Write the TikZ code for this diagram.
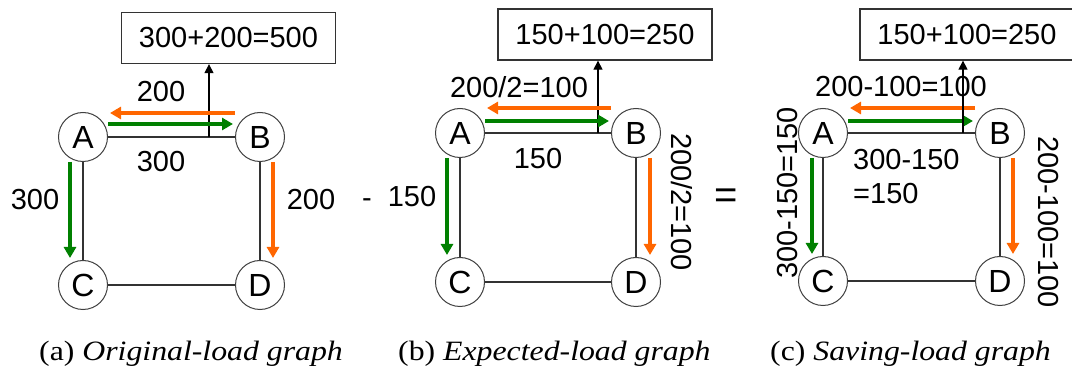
\documentclass[tikz,border=0pt]{standalone}
\usepackage{fontspec}
\setmainfont{Liberation Serif}
\newfontfamily\arialf{Liberation Sans}
\newfontfamily\capf[FakeStretch=1.135]{Liberation Serif}
\usetikzlibrary{arrows.meta}
\definecolor{grn}{RGB}{0,128,0}
\definecolor{org}{RGB}{255,102,0}
\tikzset{
  vtx/.style={circle, draw=black!75, line width=1pt, fill=white, minimum size=49pt, inner sep=0pt, font=\arialf\fontsize{32}{38}\selectfont},
  sumbox/.style={draw=black!80, line width=1.3pt, minimum width=214pt, minimum height=51pt, inner sep=0pt, font=\arialf\fontsize{29}{34}\selectfont},
  lbl/.style={inner sep=0pt, font=\arialf\fontsize{29}{34}\selectfont},
  bigop/.style={inner sep=0pt, font=\arialf\fontsize{40}{46}\selectfont},
  link/.style={draw=black!80, line width=1.2pt},
  garrow/.style={draw=grn, line width=4pt, -{Triangle[length=11pt,width=12pt]}},
  oarrow/.style={draw=org, line width=4pt, -{Triangle[length=11pt,width=12pt]}},
  uparrow/.style={draw=black, line width=1.2pt, -{Triangle[length=9pt,width=9pt]}},
  captext/.style={inner sep=0pt, anchor=base west, font=\capf\fontsize{28}{32}\selectfont},
}
\begin{document}
\begin{tikzpicture}[x=1pt,y=-1pt]
\useasboundingbox (0,0) rectangle (1072,371);
% ---------- panel (a)
\node[vtx] (A1) at (83,137) {A};
\node[vtx] (B1) at (260,137) {B};
\node[vtx] (C1) at (83,285) {C};
\node[vtx] (D1) at (260,285) {D};
\node[sumbox] (S1) at (228.5,38) {300+200=500};
\draw[link] (A1) -- (B1);
\draw[link] (A1) -- (C1);
\draw[link] (B1) -- (D1);
\draw[link] (C1) -- (D1);
\coordinate (t1) at (209,137);
\draw[uparrow] (t1) -- (t1 |- S1.south);
\draw[oarrow] ([yshift=24pt]B1.west) -- ([yshift=24pt,xshift=2pt]A1.east);
\draw[garrow] ([yshift=13pt]A1.east) -- ([yshift=13pt,xshift=-2pt]B1.west);
\draw[garrow] ([xshift=-13pt]A1.south) -- ([xshift=-13pt,yshift=2pt]C1.north);
\draw[oarrow] ([xshift=13pt]B1.south) -- ([xshift=13pt,yshift=2pt]D1.north);
\node[lbl] (la1) at (161,92) {200};
\node[lbl] (la2) at (161,162) {300};
\node[lbl] (la3) at (35,200) {300};
\node[lbl] (la4) at (311,200) {200};
% ---------- panel (b)
\node[vtx] (A2) at (460,133) {A};
\node[vtx] (B2) at (636,133) {B};
\node[vtx] (C2) at (460,282) {C};
\node[vtx] (D2) at (636,282) {D};
\node[sumbox] (S2) at (605,34.5) {150+100=250};
\draw[link] (A2) -- (B2);
\draw[link] (A2) -- (C2);
\draw[link] (B2) -- (D2);
\draw[link] (C2) -- (D2);
\coordinate (t2) at (598,133);
\draw[uparrow] (t2) -- (t2 |- S2.south);
\draw[oarrow] ([yshift=25pt]B2.west) -- ([yshift=25pt,xshift=2pt]A2.east);
\draw[garrow] ([yshift=12pt]A2.east) -- ([yshift=12pt,xshift=-2pt]B2.west);
\draw[garrow] ([xshift=-13pt]A2.south) -- ([xshift=-13pt,yshift=2pt]C2.north);
\draw[oarrow] ([xshift=14pt]B2.south) -- ([xshift=14pt,yshift=2pt]D2.north);
\node[lbl] (lb1) at (519,87) {200/2=100};
\node[lbl] (lb2) at (538,159) {150};
\node[lbl] (lb3) at (412,197) {150};
\node[lbl, anchor=base] (minus) at (367,207.4) {-};
\node[lbl, rotate=-90] (lb4) at (682,202) {200/2=100};
\node[bigop] (equal) at (726,199) {=};
% ---------- panel (c)
\node[vtx] (A3) at (823,133) {A};
\node[vtx] (B3) at (1000,133) {B};
\node[vtx] (C3) at (823,281) {C};
\node[vtx] (D3) at (1000,281) {D};
\node[sumbox] (S3) at (967,34.5) {150+100=250};
\draw[link] (A3) -- (B3);
\draw[link] (A3) -- (C3);
\draw[link] (B3) -- (D3);
\draw[link] (C3) -- (D3);
\coordinate (t3) at (963,133);
\draw[oarrow] ([yshift=25pt]B3.west) -- ([yshift=25pt,xshift=2pt]A3.east);
\draw[garrow] ([yshift=12pt]A3.east) -- ([yshift=12pt,xshift=-2pt]B3.west);
\draw[garrow] ([xshift=-11pt]A3.south) -- ([xshift=-11pt,yshift=2pt]C3.north);
\draw[oarrow] ([xshift=13pt]B3.south) -- ([xshift=13pt,yshift=2pt]D3.north);
\node[lbl] (lc1) at (901,87) {200-100=100};
\draw[uparrow] (t3) -- (t3 |- S3.south);
\node[lbl, align=left, anchor=north west] (lc2) at (853,148.6) {300-150\\=150};
\node[lbl, rotate=90] (lc3) at (788,193) {300-150=150};
\node[lbl, rotate=-90] (lc4) at (1048,222) {200-100=100};
% ---------- captions
\node[captext] (capa) at (39,361) {(a) \textit{Original-load graph}};
\node[captext] (capb) at (398,361) {(b) \textit{Expected-load graph}};
\node[captext] (capc) at (770,361) {(c) \textit{Saving-load graph}};
\end{tikzpicture}
\end{document}
